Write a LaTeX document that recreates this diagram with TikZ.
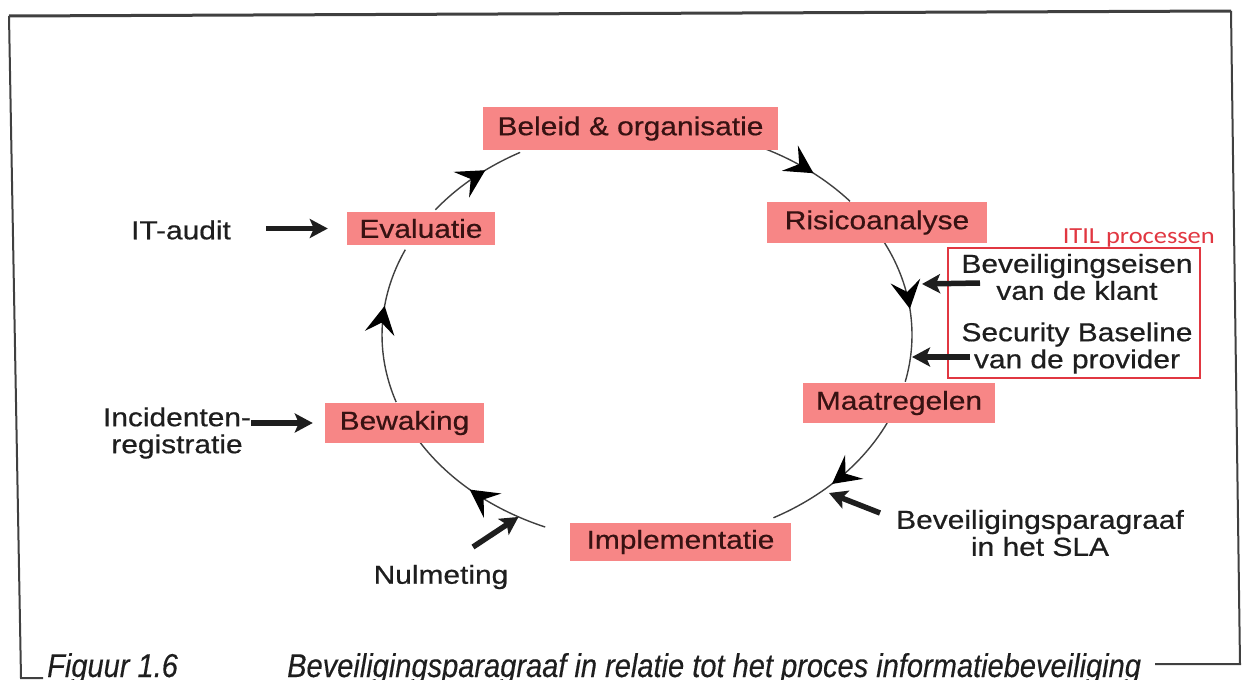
\documentclass[tikz,border=0pt]{standalone}
\usepackage{fontspec}
\setmainfont{Liberation Sans}[FakeStretch=1.15,FakeBold=0.6]
\newfontfamily\capfont{Liberation Sans}[FakeStretch=0.88,FakeBold=0.3]
\newfontfamily\itilfont{Carlito}[FakeStretch=1.15]
\usetikzlibrary{arrows.meta,decorations.markings}

\definecolor{boxpink}{RGB}{247,134,134}
\definecolor{boxtext}{RGB}{55,18,18}
\definecolor{ink}{RGB}{30,30,30}
\definecolor{itilred}{RGB}{225,55,65}

\begin{document}
\begin{tikzpicture}[x=1pt,y=-1pt,
  stage/.style={fill=boxpink, text=boxtext, inner sep=0pt, font=\fontsize{26}{27}\selectfont},
  txt/.style={text=ink, inner sep=0pt, align=center, font=\fontsize{26}{27}\selectfont},
  cyc/.style={draw=ink!85, line width=1.4pt, postaction={decorate},
    decoration={markings, mark=at position #1 with {\arrow{Stealth[length=28pt,width=30pt,inset=11pt,color=black]}}}},
  feed/.style={draw=ink, line width=5.5pt, -{Stealth[length=18pt,width=19pt,inset=4pt]}},
  frame/.style={draw=ink!85, line width=2pt}
]
\useasboundingbox (0,0) rectangle (1245,680);

% outer frame
\draw[frame, line width=3pt] (9,16) -- (1231,11);
\draw[frame] (9,16) -- (21,678) -- (43,678);
\draw[frame] (1231,11) -- (1240,664) -- (1155,664);

% the cycle is an ellipse centred on O
\coordinate (O) at (647,335);
\path (O) ++(-64:265 and 208)   coordinate (c1);
\path (O) ++(-27:265 and 208)   coordinate (c2);
\path (O) ++(25:265 and 208)    coordinate (c3);
\path (O) ++(112.6:265 and 208) coordinate (c4);
\path (O) ++(161.2:265 and 208) coordinate (c5);
\path (O) ++(217:265 and 208)   coordinate (c6);

\draw[cyc=0.55] (c1) arc[start angle=-64,   end angle=-40,   x radius=265, y radius=208];
\draw[cyc=0.5]  (c2) arc[start angle=-27,   end angle=13,    x radius=265, y radius=208];
\draw[cyc=0.55] (c3) arc[start angle=25,    end angle=61.5,  x radius=265, y radius=208];
\draw[cyc=0.55] (c4) arc[start angle=112.6, end angle=149,   x radius=265, y radius=208];
\draw[cyc=0.62] (c5) arc[start angle=161.2, end angle=204.2, x radius=265, y radius=208];
\draw[cyc=0.62] (c6) arc[start angle=217,   end angle=241.4, x radius=265, y radius=208];

% process stages
\node[stage, minimum width=295pt, minimum height=43pt] (bel) at (630.5,128.5) {Beleid \& organisatie};
\node[stage, minimum width=220pt, minimum height=41pt] (ris) at (877,222.5) {Risicoanalyse};
\node[stage, minimum width=192pt, minimum height=40pt] (maa) at (899,403) {Maatregelen};
\node[stage, minimum width=221pt, minimum height=38pt] (imp) at (680.5,542) {Implementatie};
\node[stage, minimum width=159pt, minimum height=40pt] (bew) at (404.5,423) {Bewaking};
\node[stage, minimum width=148pt, minimum height=33pt] (eva) at (421,228.5) {Evaluatie};

% inputs
\node[txt] (aud) at (181,230) {IT-audit};
\node[txt] (inc) at (177,433) {Incidenten-\\registratie};
\node[txt] (nul) at (441,577) {Nulmeting};
\node[txt] (sla) at (1040,533) {Beveiligingsparagraaf\\in het SLA};
\node[txt] (eis) at (1077,277) {Beveiligingseisen\\van de klant};
\node[txt] (base) at (1077,348) {Security Baseline\\van de provider};

% ITIL group
\node[draw=itilred, line width=2pt, inner sep=0pt, minimum width=252pt, minimum height=130pt] (itil) at (1074,313) {};
\node[text=itilred, inner sep=0pt, anchor=base east, font=\itilfont\fontsize{23}{23}\selectfont] (itl) at (1215,243) {ITIL processen};

% input arrows
\draw[feed, shorten <=35pt, shorten >=19pt] (aud.east |- eva.west) -- (eva.west);
\draw[feed, shorten >=12pt] (inc.east |- bew.west) -- (bew.west);
\coordinate (nulT) at (473,547);
\path (O) ++(119:265 and 208) coordinate (nulH);
\draw[feed] (nulT) -- (nulH);
\coordinate (slaT) at (880,513);
\coordinate (slaH) at (829,493);
\draw[feed] (slaT) -- (slaH);
\coordinate (eisT) at (980,283);
\coordinate (eisH) at (922,284);
\draw[feed] (eisT) -- (eisH);
\coordinate (baseT) at (970,357);
\coordinate (baseH) at (912,357);
\draw[feed] (baseT) -- (baseH);

% caption
\node[anchor=base west, inner sep=0pt, text=ink, font=\capfont\itshape\fontsize{33}{33}\selectfont] (fig) at (47,677) {Figuur 1.6};
\node[anchor=base west, inner sep=0pt, text=ink, font=\capfont\itshape\fontsize{33}{33}\selectfont] (cap) at (287,677) {Beveiligingsparagraaf in relatie tot het proces informatiebeveiliging};
\end{tikzpicture}
\end{document}
